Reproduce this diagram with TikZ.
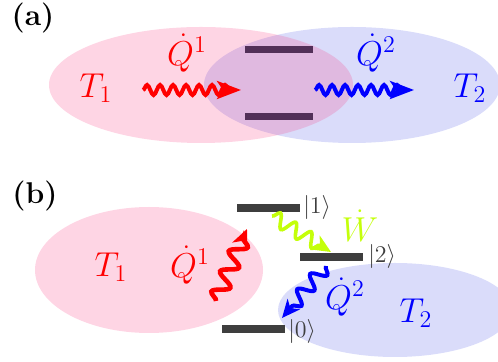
\documentclass[tikz,border=0pt]{standalone}
\usepackage{amsmath}
\usetikzlibrary{arrows.meta,positioning,decorations.pathmorphing}

\definecolor{bathred}{RGB}{250,45,120}
\definecolor{bathblue}{RGB}{218,220,250}
\definecolor{levelgray}{RGB}{62,62,62}
\definecolor{levelpurple}{RGB}{82,48,88}
\definecolor{workgreen}{RGB}{196,255,10}

\begin{document}
\begin{tikzpicture}[
  x=0.5pt, y=-0.5pt,
  every node/.style={align=center},
  big/.style={font=\fontsize{18}{20}\selectfont},
  panel/.style={font=\fontsize{15}{17}\selectfont\bfseries},
  ket/.style={font=\fontsize{13}{15}\selectfont, text=levelgray, inner sep=1pt},
  lvl/.style={rectangle, fill=levelgray, minimum width=31.5pt, minimum height=4pt, inner sep=0pt},
  hotbath/.style={fill=bathred, fill opacity=0.2},
  coldbath/.style={fill=bathblue},
  flow/.style={line width=2pt, -{Stealth[length=12pt, width=9pt, inset=3pt]}, decorate,
    decoration={snake, amplitude=2.5pt, segment length=6.5pt, post length=5pt}},
  bigflow/.style={line width=2.3pt, -{Stealth[length=9pt, width=8pt, inset=2.5pt]}, decorate,
    decoration={snake, amplitude=4pt, segment length=11pt, post length=3pt}}
]
\clip (0,0) rectangle (498,362);

% (a) two-level system between two baths
\node[panel] (pa) at (33,18) {(a)};
\fill[coldbath] (352,85) ellipse [x radius=74pt, y radius=29pt];
\fill[hotbath] (201,85) ellipse [x radius=76pt, y radius=29pt];

\node[lvl, fill=levelpurple, minimum width=34pt, minimum height=3.5pt] (upA) at (279,50) {};
\node[lvl, fill=levelpurple, minimum width=34pt, minimum height=3.5pt] (lowA) at (279,117) {};

\node[big, text=red] (t1A) at (96,88) {$T_1$};
\node[big, text=blue] (t2A) at (470,88) {$T_2$};
\node[big, text=red] (q1A) at (187,53) {$\dot{Q}^1$};
\node[big, text=blue] (q2A) at (376,53) {$\dot{Q}^2$};

\coordinate (q1Ain) at (143,90);
\coordinate (q1Aout) at (241,90);
\coordinate (q2Ain) at (315,90);
\coordinate (q2Aout) at (414,90);
\draw[flow, red] (q1Ain) -- (q1Aout);
\draw[flow, blue] (q2Ain) -- (q2Aout);

% (b) three-level engine
\node[panel] (pb) at (35,196) {(b)};
\fill[hotbath] (149,270) ellipse [x radius=57pt, y radius=31.5pt];
\fill[coldbath] (395,310) ellipse [x radius=58.5pt, y radius=23.5pt];

\node[lvl] (e1) at (268,208) {};
\node[lvl] (e2) at (331,257) {};
\node[lvl] (e0) at (253,329) {};
\node[ket, right=0.5pt of e1] (k1) {$|1\rangle$};
\node[ket, right=1.5pt of e2] (k2) {$|2\rangle$};
\node[ket, right=0.5pt of e0, yshift=-1.5pt] (k0) {$|0\rangle$};

\node[big, text=red] (t1B) at (111,267) {$T_1$};
\node[big, text=blue] (t2B) at (416,313) {$T_2$};
\node[big, text=red] (q1B) at (190,265) {$\dot{Q}^1$};
\node[big, text=blue] (q2B) at (345,297) {$\dot{Q}^2$};
\node[big, text=workgreen] (wB) at (360,226) {$\dot{W}$};

\coordinate (q1Bin) at (216,301);
\coordinate (q1Bout) at (247,229);
\coordinate (wBin) at (272,216);
\coordinate (wBout) at (331,252);
\coordinate (q2Bin) at (326,266);
\coordinate (q2Bout) at (282,318);
\draw[bigflow, red] (q1Bin) -- (q1Bout);
\draw[bigflow, workgreen, line width=1.8pt, decoration={amplitude=3.5pt, segment length=9pt}] (wBin) -- (wBout);
\draw[bigflow, blue, line width=2pt, decoration={amplitude=3.5pt, segment length=10pt}] (q2Bin) -- (q2Bout);

\end{tikzpicture}
\end{document}
